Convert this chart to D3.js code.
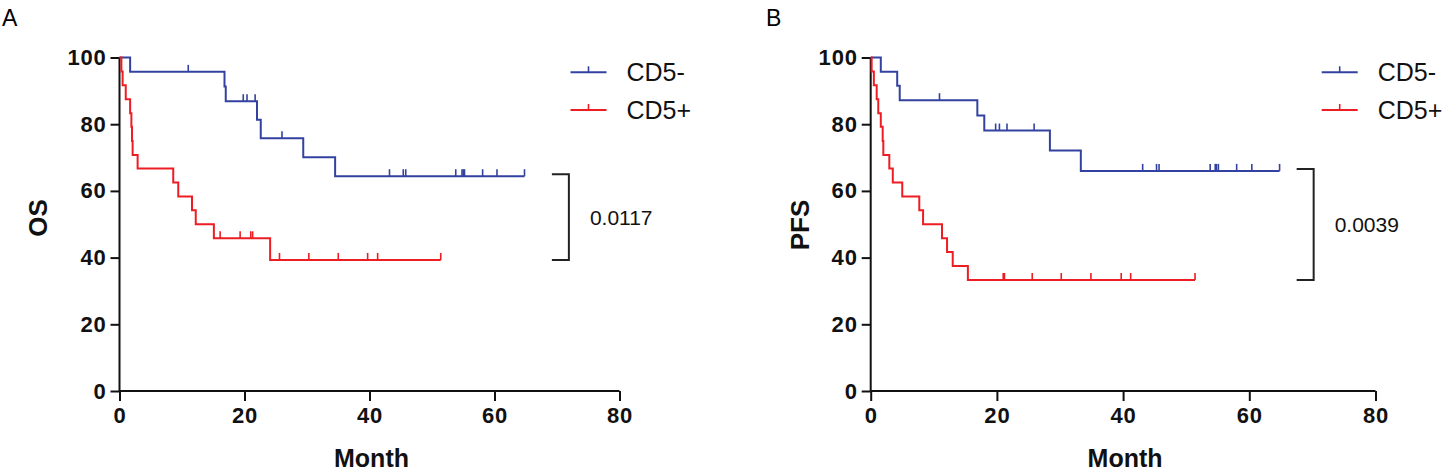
<!DOCTYPE html>
<html>
<head>
<meta charset="utf-8">
<script src="https://cdn.jsdelivr.net/npm/d3@7"></script>
<style>
  html, body { margin: 0; padding: 0; background: #fff; }
  svg { display: block; font-family: "Liberation Sans", Arial, sans-serif; }
</style>
</head>
<body>
<svg id="chart" width="1445" height="475"></svg>
<script>
// ---- data ----
const groups = ["CD5-", "CD5+"];
const monthTicks = [0, 20, 40, 60, 80];
const pctTicks = [0, 20, 40, 60, 80, 100];
const pValues = ["0.0117", "0.0039"];

// OS, CD5-  (event month, survival % after the event)
const osNegTimes = [1.7, 16.8, 17.0, 22.0, 22.6, 29.4, 34.5];
const osNegSurv = [95.7, 91.3, 86.9, 81.3, 75.8, 70.1, 64.4];
const osNegCensor = [11.0, 19.8, 20.4, 21.7, 26.0, 43.2, 45.4, 45.8, 53.8, 54.8, 55.0, 55.2, 58.1, 60.4, 64.8];
const osNegEnd = 64.8;

// OS, CD5+
const osPosTimes = [0.3, 0.5, 1.0, 1.7, 1.9, 2.0, 2.1, 2.9, 8.6, 9.4, 11.6, 12.2, 15.1, 24.1];
const osPosSurv = [95.8, 91.7, 87.5, 83.3, 79.2, 75.0, 70.8, 66.7, 62.5, 58.3, 54.2, 50.0, 45.8, 39.3];
const osPosCensor = [16.1, 19.3, 21.0, 21.3, 25.6, 30.3, 35.0, 39.7, 41.3, 51.4];
const osPosEnd = 51.4;

// PFS, CD5-
const pfsNegTimes = [1.6, 4.2, 4.6, 16.9, 18.0, 28.4, 33.3];
const pfsNegSurv = [95.7, 91.5, 87.2, 82.6, 78.1, 72.1, 66.0];
const pfsNegCensor = [10.9, 19.8, 20.4, 21.6, 25.9, 43.1, 45.3, 45.7, 53.8, 54.6, 54.8, 55.1, 58.0, 60.4, 64.8];
const pfsNegEnd = 64.8;

// PFS, CD5+
const pfsPosTimes = [0.15, 0.5, 0.95, 1.2, 1.6, 1.9, 2.0, 2.95, 3.5, 5.0, 7.7, 8.3, 11.3, 12.1, 13.0, 15.4];
const pfsPosSurv = [95.8, 91.7, 87.5, 83.3, 79.2, 75.0, 70.8, 66.7, 62.5, 58.3, 54.2, 50.0, 45.8, 41.7, 37.5, 33.3];
const pfsPosCensor = [21.0, 21.2, 25.6, 30.2, 34.9, 39.7, 41.2, 51.4];
const pfsPosEnd = 51.4;

const colors = ["#3342a0", "#ee1d23"];

const svg = d3.select("#chart");

const panels = [
  {
    letter: "A", letterX: 2, yTitle: "OS", yTitleX: 38, yTitleY: 218,
    x0: 119.5, x1: 619.5, bracketMonth: 71.9, p: pValues[0],
    curves: [
      { times: osNegTimes, surv: osNegSurv, censor: osNegCensor, end: osNegEnd },
      { times: osPosTimes, surv: osPosSurv, censor: osPosCensor, end: osPosEnd }
    ]
  },
  {
    letter: "B", letterX: 766, yTitle: "PFS", yTitleX: 800, yTitleY: 225,
    x0: 870.7, x1: 1375.5, bracketMonth: 70.2, p: pValues[1],
    curves: [
      { times: pfsNegTimes, surv: pfsNegSurv, censor: pfsNegCensor, end: pfsNegEnd },
      { times: pfsPosTimes, surv: pfsPosSurv, censor: pfsPosCensor, end: pfsPosEnd }
    ]
  }
];

const yTop = 57.5, yBottom = 391;

panels.forEach(pn => {
  const g = svg.append("g");
  const x = d3.scaleLinear().domain([0, 80]).range([pn.x0, pn.x1]);
  const y = d3.scaleLinear().domain([0, 100]).range([yBottom, yTop]);

  // panel letter
  g.append("text")
    .attr("x", pn.letterX).attr("y", 26)
    .style("font-size", "23px")
    .text(pn.letter);

  // axes
  const xAxis = g.append("g")
    .attr("transform", `translate(0,${yBottom})`)
    .call(d3.axisBottom(x).tickValues(monthTicks).tickSize(10).tickPadding(6).tickSizeOuter(0));
  const yAxis = g.append("g")
    .attr("transform", `translate(${pn.x0},0)`)
    .call(d3.axisLeft(y).tickValues(pctTicks).tickSize(9).tickPadding(4).tickSizeOuter(0));

  [xAxis, yAxis].forEach(a => {
    a.select(".domain").attr("stroke", "#111").attr("stroke-width", 2);
    a.selectAll(".tick line").attr("stroke", "#111").attr("stroke-width", 2);
    a.selectAll(".tick text")
      .attr("fill", "#111")
      .style("font-size", "22px")
      .style("font-weight", "bold")
      .style("letter-spacing", "0.8px")
      .style("font-family", "'Liberation Sans', Arial, sans-serif");
  });
  xAxis.select(".domain").attr("d", `M${pn.x0},0H${pn.x1}`);
  yAxis.select(".domain").attr("d", `M0,${yBottom}V${yTop}`);

  // axis titles
  g.append("text")
    .attr("x", (pn.x0 + pn.x1) / 2 + 2).attr("y", 467)
    .attr("text-anchor", "middle")
    .style("font-size", "25px").style("font-weight", "bold")
    .attr("fill", "#111")
    .text("Month");
  g.append("text")
    .attr("transform", `translate(${pn.yTitleX + 9},${pn.yTitleY}) rotate(-90)`)
    .attr("text-anchor", "middle")
    .style("font-size", "26px").style("font-weight", "bold")
    .attr("fill", "#111")
    .text(pn.yTitle);

  // Kaplan-Meier step curves
  const line = d3.line()
    .x(d => x(d[0]))
    .y(d => y(d[1]))
    .curve(d3.curveStepAfter);

  pn.curves.forEach((c, i) => {
    const pts = [[0, 100]].concat(c.times.map((t, k) => [t, c.surv[k]]));
    pts.push([c.end, c.surv[c.surv.length - 1]]);

    g.append("path")
      .attr("d", line(pts))
      .attr("fill", "none")
      .attr("stroke", colors[i])
      .attr("stroke-width", 2);

    const survAt = t => {
      let s = 100;
      c.times.forEach((tt, k) => { if (tt <= t) s = c.surv[k]; });
      return s;
    };

    g.selectAll(null)
      .data(c.censor)
      .enter()
      .append("line")
      .attr("x1", d => x(d)).attr("x2", d => x(d))
      .attr("y1", d => y(survAt(d)))
      .attr("y2", d => y(survAt(d)) - 7)
      .attr("stroke", colors[i])
      .attr("stroke-width", 1.6);
  });

  // bracket with p value
  const bx = x(pn.bracketMonth);
  const lastNeg = pn.curves[0].surv[pn.curves[0].surv.length - 1];
  const lastPos = pn.curves[1].surv[pn.curves[1].surv.length - 1];
  const by1 = y(lastNeg) - 2, by2 = y(lastPos);
  g.append("path")
    .attr("d", `M${bx - 17},${by1}H${bx}V${by2}H${bx - 17}`)
    .attr("fill", "none")
    .attr("stroke", "#222")
    .attr("stroke-width", 2);
  g.append("text")
    .attr("x", bx + 21).attr("y", (by1 + by2) / 2)
    .attr("dy", "0.36em")
    .style("font-size", "21px")
    .attr("fill", "#111")
    .text(pn.p);

  // legend
  const lx = pn.x0 + 451;
  const legend = g.selectAll(".legend")
    .data(groups)
    .enter()
    .append("g")
    .attr("class", "legend")
    .attr("transform", (d, i) => `translate(${lx},${72.3 + i * 37.7})`);
  legend.append("line")
    .attr("x1", 0).attr("x2", 36)
    .attr("stroke", (d, i) => colors[i]).attr("stroke-width", 2);
  legend.append("line")
    .attr("x1", 18).attr("x2", 18).attr("y1", 0).attr("y2", -6)
    .attr("stroke", (d, i) => colors[i]).attr("stroke-width", 1.6);
  legend.append("text")
    .attr("x", 56).attr("y", 9)
    .style("font-size", "25px")
    .attr("fill", "#111")
    .text(d => d);
});
</script>
</body>
</html>
